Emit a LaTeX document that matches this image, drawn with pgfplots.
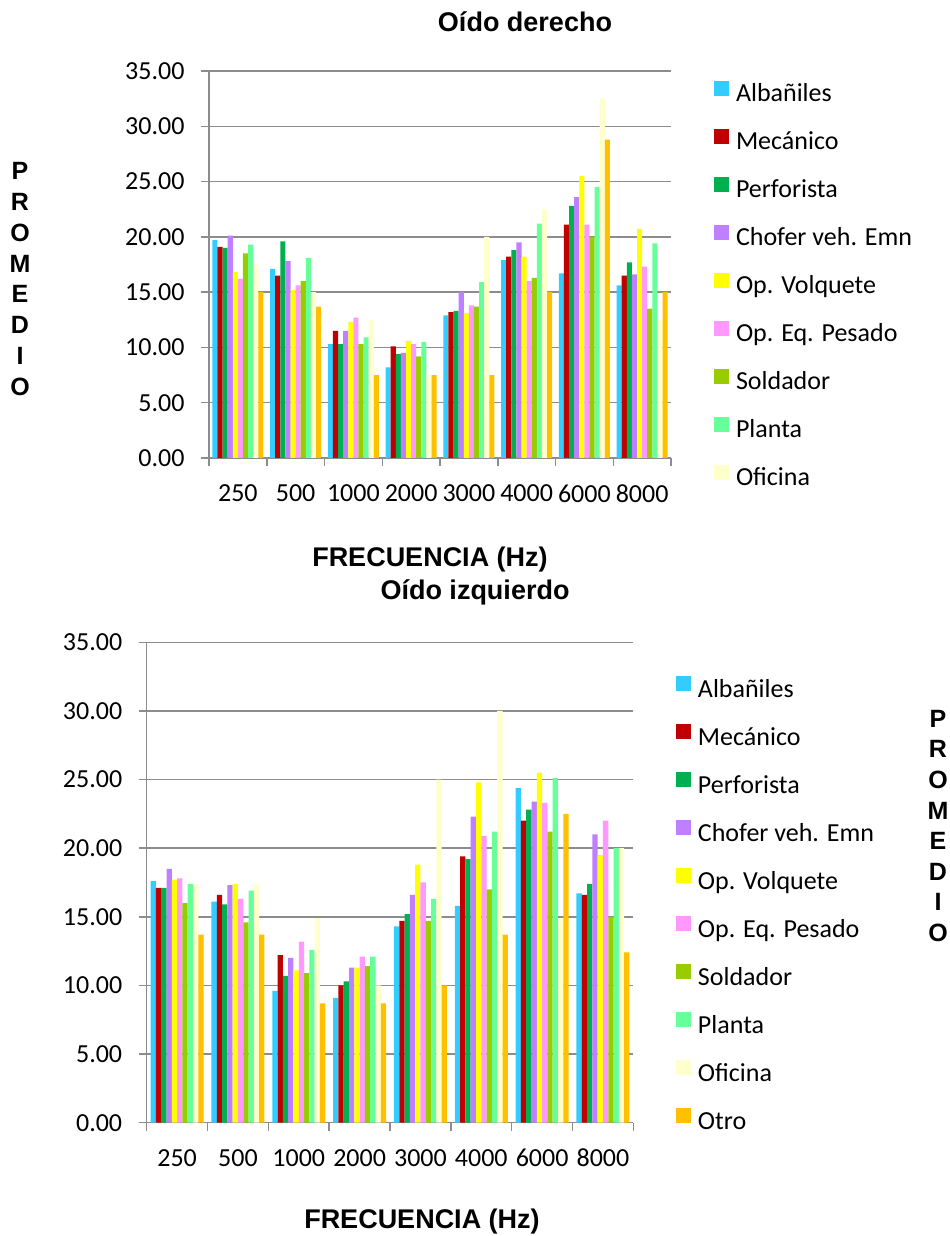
\documentclass[border=0pt]{standalone}
\usepackage{pgfplots}
\pgfplotsset{compat=1.18}
\usepackage{pgfplotstable}
\usepackage{fontspec}
\setmainfont{Carlito}
\newfontfamily\arialfont{Liberation Sans}

\definecolor{cAlb}{HTML}{33CCFF}
\definecolor{cMec}{HTML}{C00000}
\definecolor{cPer}{HTML}{00B050}
\definecolor{cCho}{HTML}{BF80FF}
\definecolor{cVol}{HTML}{FFFF00}
\definecolor{cPes}{HTML}{FF99FF}
\definecolor{cSol}{HTML}{99CC00}
\definecolor{cPla}{HTML}{66FF99}
\definecolor{cOfi}{HTML}{FFFFCC}
\definecolor{cOtr}{HTML}{FFC000}
\definecolor{gridgray}{HTML}{8C8C8C}

% Oido derecho
\pgfplotstableread{
x alb mec perf chof volq pes sold plan ofi otro
0 19.7 19.1 19.0 20.1 16.8 16.2 18.5 19.3 17.5 15.0
1 17.1 16.5 19.6 17.8 15.2 15.6 16.0 18.1 15.0 13.7
2 10.3 11.5 10.3 11.5 12.3 12.7 10.3 10.9 12.5 7.5
3 8.2 10.1 9.4 9.5 10.6 10.3 9.2 10.5 7.5 7.5
4 12.9 13.2 13.3 15.0 13.1 13.8 13.7 15.9 20.0 7.5
5 17.9 18.2 18.8 19.5 18.2 16.0 16.3 21.2 22.5 15.0
6 16.7 21.1 22.8 23.6 25.5 21.1 20.0 24.5 32.5 28.8
7 15.6 16.5 17.7 16.6 20.7 17.3 13.5 19.4 12.5 15.0
}\tabR

% Oido izquierdo
\pgfplotstableread{
x alb mec perf chof volq pes sold plan ofi otro
0 17.6 17.1 17.1 18.5 17.7 17.8 16.0 17.4 17.4 13.7
1 16.1 16.6 15.9 17.3 17.4 16.3 14.6 16.9 17.4 13.7
2 9.6 12.2 10.7 12.0 11.1 13.2 10.9 12.6 14.9 8.7
3 9.1 10.0 10.3 11.3 11.3 12.1 11.4 12.1 10.0 8.7
4 14.3 14.7 15.2 16.6 18.8 17.5 14.7 16.3 25.0 10.0
5 15.8 19.4 19.2 22.3 24.8 20.9 17.0 21.2 30.0 13.7
6 24.4 22.0 22.8 23.4 25.5 23.3 21.2 25.1 14.9 22.5
7 16.7 16.6 17.4 21.0 19.5 22.0 15.0 20.0 20.0 12.4
}\tabL

\pgfplotsset{
  earstyle/.style={
    scale only axis,
    xmin=-0.5, xmax=7.5,
    ymin=0, ymax=35,
    ytick={0,5,...,35},
    xtick={-0.5,0.5,...,7.5},
    x tick label as interval,
    xticklabels={250,500,1000,2000,3000,4000,6000,8000},
    ymajorgrids,
    grid style={draw=gridgray, line width=1.5bp},
    axis x line*=bottom,
    axis y line*=left,
    axis line style={draw=gridgray, line width=1.5bp, -},
    tick style={draw=gridgray, line width=1.5bp},
    tick align=outside,
    major tick length=8bp,
    ybar=0pt,
    legend image code/.code={\fill[##1] (0bp,0bp) rectangle (15bp,15bp);},
    tick label style={font=\fontsize{26bp}{30bp}\selectfont},
    /pgf/number format/assume math mode=true,
    yticklabel style={xshift=-13bp, /pgf/number format/.cd, fixed, fixed zerofill, precision=2},
    xticklabel style={yshift=-15bp},
    legend cell align=left,
    legend style={draw=none, fill=none, inner sep=0pt, outer sep=0pt,
      font=\fontsize{26bp}{30bp}\selectfont,
      row sep=22bp,
      nodes={inner sep=0pt, text height=17bp, text depth=5bp},
      /tikz/every odd column/.append style={column sep=7bp},
      anchor=north west},
    every axis plot/.append style={draw=none},
  }
}

\begin{document}
\begin{tikzpicture}[x=1bp,y=1bp]
\path[use as bounding box] (0,0) rectangle (950,1236);

% ---------- Oido derecho ----------
\begin{axis}[earstyle,
  at={(209bp,778bp)}, anchor=south west,
  width=462bp, height=387bp,
  bar width=5.1bp,
  legend style={at={(1.0931,0.975)}},
]
\addplot[fill=cAlb] table[x=x,y=alb]{\tabR};
\addplot[fill=cMec] table[x=x,y=mec]{\tabR};
\addplot[fill=cPer] table[x=x,y=perf]{\tabR};
\addplot[fill=cCho] table[x=x,y=chof]{\tabR};
\addplot[fill=cVol] table[x=x,y=volq]{\tabR};
\addplot[fill=cPes] table[x=x,y=pes]{\tabR};
\addplot[fill=cSol] table[x=x,y=sold]{\tabR};
\addplot[fill=cPla] table[x=x,y=plan]{\tabR};
\addplot[fill=cOfi] table[x=x,y=ofi]{\tabR};
\addplot[fill=cOtr] table[x=x,y=otro]{\tabR};
\legend{Albañiles,Mecánico,Perforista,Chofer veh. Emn,Op. Volquete,Op. Eq. Pesado,Soldador,Planta,Oficina}
\end{axis}

% ---------- Oido izquierdo ----------
\begin{axis}[earstyle,
  at={(146.7bp,113.3bp)}, anchor=south west,
  width=486.7bp, height=480.4bp,
  bar width=5.3bp,
  legend style={at={(1.0875,0.929)}},
]
\addplot[fill=cAlb] table[x=x,y=alb]{\tabL};
\addplot[fill=cMec] table[x=x,y=mec]{\tabL};
\addplot[fill=cPer] table[x=x,y=perf]{\tabL};
\addplot[fill=cCho] table[x=x,y=chof]{\tabL};
\addplot[fill=cVol] table[x=x,y=volq]{\tabL};
\addplot[fill=cPes] table[x=x,y=pes]{\tabL};
\addplot[fill=cSol] table[x=x,y=sold]{\tabL};
\addplot[fill=cPla] table[x=x,y=plan]{\tabL};
\addplot[fill=cOfi] table[x=x,y=ofi]{\tabL};
\addplot[fill=cOtr] table[x=x,y=otro]{\tabL};
\legend{Albañiles,Mecánico,Perforista,Chofer veh. Emn,Op. Volquete,Op. Eq. Pesado,Soldador,Planta,Oficina,Otro}
\end{axis}

% titles and labels
\begin{scope}[every node/.style={font=\arialfont\bfseries\fontsize{27bp}{31bp}\selectfont, inner sep=0pt}]
\node at (525,1214) {Oído derecho};
\node at (430,676) {FRECUENCIA (Hz)};
\node at (475,644) {Oído izquierdo};
\node at (422,14) {FRECUENCIA (Hz)};
\node[align=center, font=\arialfont\bfseries\fontsize{25bp}{30.8bp}\selectfont] at (20,957) {P\\R\\O\\M\\E\\D\\I\\O};
\node[align=center, font=\arialfont\bfseries\fontsize{25bp}{30.6bp}\selectfont] at (938,410) {P\\R\\O\\M\\E\\D\\I\\O};
\end{scope}
\end{tikzpicture}
\end{document}
